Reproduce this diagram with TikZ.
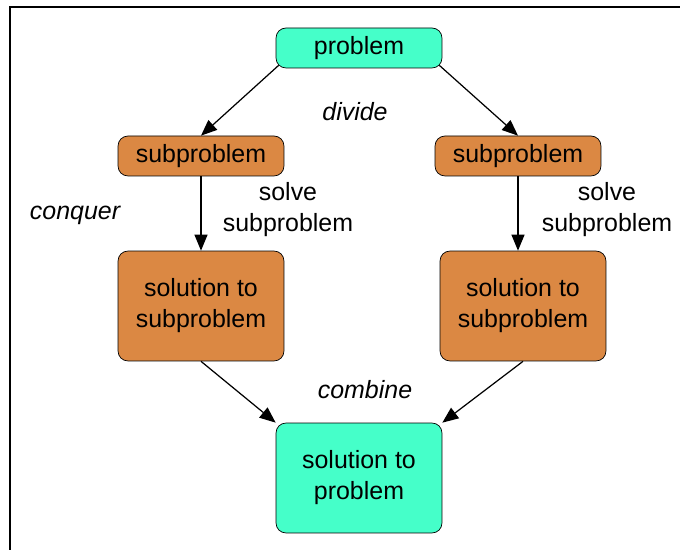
\documentclass[tikz,border=0pt]{standalone}
\usepackage{fontspec}
\setmainfont{Liberation Sans}
\usetikzlibrary{arrows.meta}
\definecolor{dcteal}{HTML}{45FFC9}
\definecolor{dcorange}{HTML}{DB8843}
\tikzset{
  stepBox/.style={draw=black, rounded corners=0.2cm, align=center, inner sep=2pt, font=\fontsize{14.2}{17.6}\selectfont},
  smallBox/.style={stepBox, minimum width=3.32cm, minimum height=0.8cm},
  bigBox/.style={stepBox, minimum width=3.32cm, minimum height=2.2cm},
  flowArrow/.style={-{Triangle[length=3.2mm,width=2.6mm]}, draw=black, line width=0.7pt},
  stepLabel/.style={font=\fontsize{14.2}{17.6}\selectfont, align=center}
}
\begin{document}
\begin{tikzpicture}[x=0.02cm,y=-0.02cm]
  \useasboundingbox (0,0) rectangle (680,550);
  \draw[line width=1.1pt] (10,550) -- (10,7) -- (680,7);
  \node[smallBox, fill=dcteal] (problem) at (359,48) {problem};
  \node[smallBox, fill=dcorange] (subLeft) at (201,156) {subproblem};
  \node[smallBox, fill=dcorange] (subRight) at (518,156) {subproblem};
  \node[bigBox, fill=dcorange] (solLeft) at (201,306) {solution to\\subproblem};
  \node[bigBox, fill=dcorange] (solRight) at (523,306) {solution to\\subproblem};
  \node[bigBox, fill=dcteal] (solution) at (359,478) {solution to\\problem};
  \draw[flowArrow] (problem.south west) ++(3,-3) -- (subLeft.north);
  \draw[flowArrow] (problem.south east) ++(-3,-3) -- (subRight.north);
  \draw[flowArrow] (subLeft) -- (solLeft);
  \draw[flowArrow] (subRight.south) -- (subRight.south |- solRight.north);
  \draw[flowArrow] (solLeft.south) -- (solution.north west);
  \draw[flowArrow] (solRight.south) -- (solution.north east);
  \node[stepLabel, font=\fontsize{14.2}{17.6}\selectfont\itshape] (divide) at (355,112) {divide};
  \node[stepLabel, font=\fontsize{14.2}{17.6}\selectfont\itshape] (conquer) at (75,215) {conquer};
  \node[stepLabel, font=\fontsize{14.2}{17.6}\selectfont\itshape] (combine) at (365,390) {combine};
  \node[stepLabel] (solveLeft) at (288,210) {solve\\subproblem};
  \node[stepLabel] (solveRight) at (607,210) {solve\\subproblem};
\end{tikzpicture}
\end{document}
